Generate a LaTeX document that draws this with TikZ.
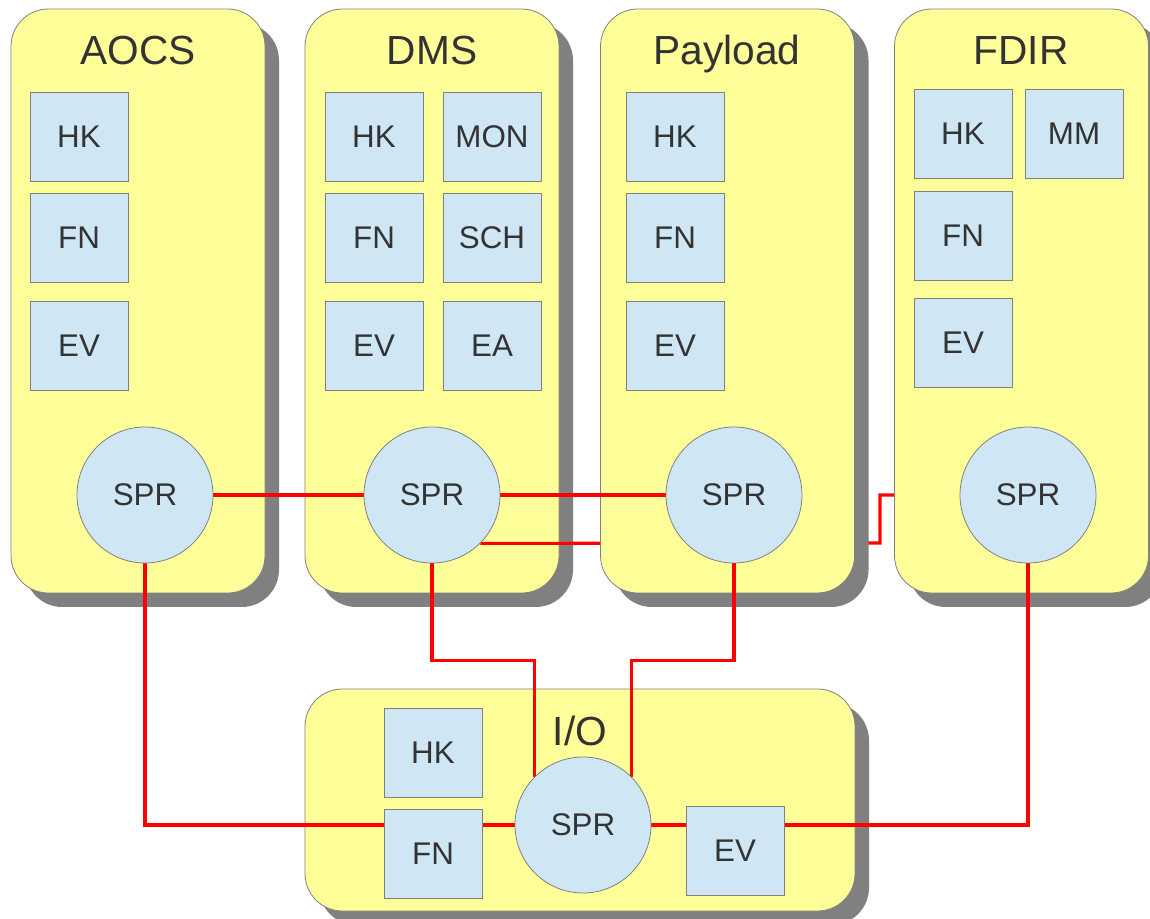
\documentclass[tikz,border=0pt]{standalone}
\usepackage{fontspec}
\setmainfont{Liberation Sans}
\usetikzlibrary{shadows}
\definecolor{panelyellow}{HTML}{FFFF99}
\definecolor{boxblue}{HTML}{CFE6F4}
\definecolor{edgegray}{HTML}{808080}
\definecolor{txtgray}{HTML}{333333}
\pgfdeclarelayer{panelsA}
\pgfdeclarelayer{under}
\pgfdeclarelayer{panelsB}
\pgfdeclarelayer{lines}
\pgfsetlayers{panelsA,under,panelsB,lines,main}
\tikzset{
  panel/.style={draw=edgegray, line width=0.6pt, fill=panelyellow, rounded corners=28pt,
    drop shadow={shadow xshift=10.5pt, shadow yshift=-10.5pt, fill=edgegray, opacity=1},
    inner sep=0pt},
  vpanel/.style={panel, minimum width=190.5pt, minimum height=438pt},
  ptitle/.style={font=\fontsize{30.5}{36}\selectfont, text=txtgray, inner sep=0pt, anchor=base},
  blk/.style={draw=edgegray, line width=0.6pt, fill=boxblue, minimum width=73.5pt, minimum height=66.75pt,
    inner sep=0pt, font=\fontsize{23.5}{28}\selectfont, text=txtgray},
  spr/.style={circle, draw=edgegray, line width=0.6pt, fill=boxblue, minimum size=102pt, inner sep=0pt,
    font=\fontsize{23.5}{28}\selectfont, text=txtgray},
  link/.style={draw=red, line width=2.3pt}
}
\begin{document}
\begin{tikzpicture}[x=0.75pt,y=-0.75pt]
\useasboundingbox (0,0) rectangle (1150,919);
% panels
\begin{pgfonlayer}{panelsA}
  \node[vpanel] (aocs) at (138,301) {};
  \node[vpanel] (dms) at (432,301) {};
\end{pgfonlayer}
\begin{pgfonlayer}{panelsB}
  \node[vpanel] (payload) at (727.5,301) {};
  \node[vpanel] (fdir) at (1021.5,301) {};
  \node[panel, minimum width=412.5pt, minimum height=166.5pt] (io) at (580,800) {};
\end{pgfonlayer}
% titles
\node[ptitle] (taocs) at (138,65) {AOCS};
\node[ptitle] (tdms) at (432,65) {DMS};
\node[ptitle] (tpay) at (727,65) {Payload};
\node[ptitle] (tfdir) at (1021,65) {FDIR};
\node[ptitle] (tio) at (580,745) {I/O};
% AOCS
\node[blk] (aHK) at (79,136.5) {HK};
\node[blk] (aFN) at (79,237.5) {FN};
\node[blk] (aEV) at (79,345.5) {EV};
\node[spr] (aspr) at (145,495) {SPR};
% DMS
\node[blk] (dHK) at (374,136.5) {HK};
\node[blk] (dMON) at (492,136.5) {MON};
\node[blk] (dFN) at (374,237.5) {FN};
\node[blk] (dSCH) at (492,237.5) {SCH};
\node[blk] (dEV) at (374,345.5) {EV};
\node[blk] (dEA) at (492,345.5) {EA};
\node[spr] (dspr) at (432,495) {SPR};
% Payload
\node[blk] (pHK) at (675,136.5) {HK};
\node[blk] (pFN) at (675,237.5) {FN};
\node[blk] (pEV) at (675,345.5) {EV};
\node[spr] (pspr) at (734,495) {SPR};
% FDIR
\node[blk] (fHK) at (963,133.5) {HK};
\node[blk] (fMM) at (1074,133.5) {MM};
\node[blk] (fFN) at (963,235.5) {FN};
\node[blk] (fEV) at (963,342.5) {EV};
\node[spr] (fspr) at (1028,495) {SPR};
% I/O
\node[blk] (iHK) at (433,752.5) {HK};
\node[blk] (iFN) at (433,853.5) {FN};
\node[spr] (ispr) at (583,825) {SPR};
\node[blk] (iEV) at (735,850.5) {EV};
% connectors
\coordinate (jog) at (880,543);
\begin{pgfonlayer}{under}
  \draw[link] (dspr.south east) -- (jog) |- (fspr.west);
\end{pgfonlayer}
\begin{pgfonlayer}{lines}
  \draw[link] (aspr.east) -- (dspr.west);
  \draw[link] (dspr.east) -- (pspr.west);
  \draw[link] (aspr.south) |- (ispr.west);
  \draw[link] (dspr.south) -- ++(0,97) -| (ispr.north west);
  \draw[link] (pspr.south) -- ++(0,97) -| (ispr.north east);
  \draw[link] (ispr.east) -| (fspr.south);
\end{pgfonlayer}
\end{tikzpicture}
\end{document}
